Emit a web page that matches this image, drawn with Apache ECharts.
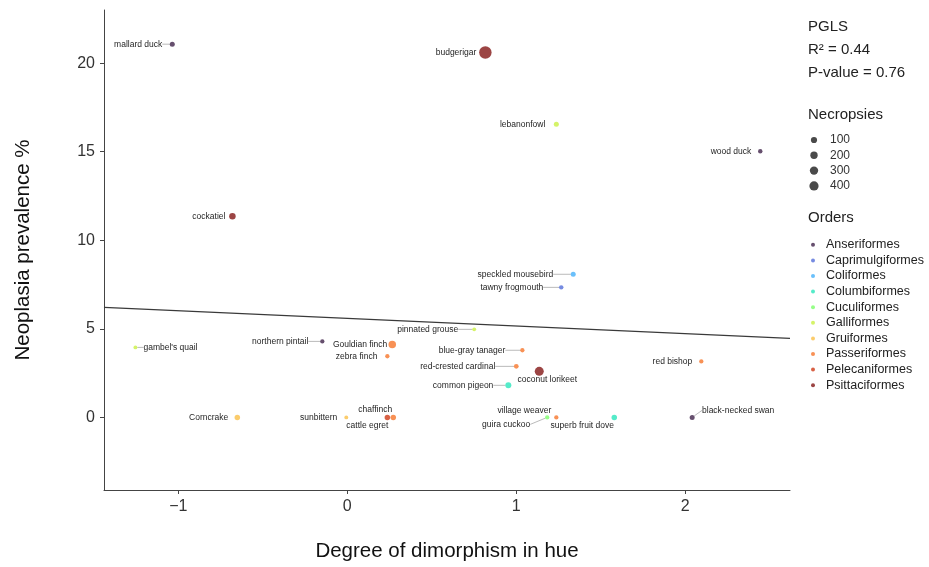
<!DOCTYPE html>
<html>
<head>
<meta charset="utf-8">
<script src="https://cdn.jsdelivr.net/npm/echarts@6/dist/echarts.min.js"></script>
<style>
  html, body { margin: 0; padding: 0; background: #ffffff; }
  #chart { width: 929px; height: 567px; }
</style>
</head>
<body>
<div id="chart"></div>
<script>
// Species-level data: hue dimorphism vs. neoplasia prevalence
const species = [
  'mallard duck', 'budgerigar', 'lebanonfowl', 'wood duck', 'cockatiel',
  'speckled mousebird', 'tawny frogmouth', 'pinnated grouse', 'northern pintail',
  'Gouldian finch', "gambel's quail", 'blue-gray tanager', 'zebra finch',
  'red-crested cardinal', 'coconut lorikeet', 'red bishop', 'common pigeon',
  'Corncrake', 'sunbittern', 'cattle egret', 'chaffinch', 'village weaver',
  'guira cuckoo', 'superb fruit dove', 'black-necked swan'
];
const speciesOrder = [
  'Anseriformes', 'Psittaciformes', 'Galliformes', 'Anseriformes', 'Psittaciformes',
  'Coliformes', 'Caprimulgiformes', 'Galliformes', 'Anseriformes',
  'Passeriformes', 'Galliformes', 'Passeriformes', 'Passeriformes',
  'Passeriformes', 'Psittaciformes', 'Passeriformes', 'Columbiformes',
  'Gruiformes', 'Gruiformes', 'Pelecaniformes', 'Passeriformes', 'Passeriformes',
  'Cuculiformes', 'Columbiformes', 'Anseriformes'
];
const hueDimorphism = [
  -1.036, 0.817, 1.237, 2.444, -0.680,
  1.337, 1.266, 0.751, -0.148,
  0.266, -1.254, 1.036, 0.237,
  1.000, 1.136, 2.095, 0.953,
  -0.651, -0.006, 0.237, 0.272, 1.237,
  1.183, 1.580, 2.041
];
const neoplasiaPct = [
  21.07, 20.6, 16.55, 15.03, 11.36,
  8.08, 7.34, 4.97, 4.29,
  4.12, 3.95, 3.79, 3.45,
  2.88, 2.60, 3.16, 1.81,
  0, 0, 0, 0, 0,
  0, 0, 0
];
const necropsies = [
  100, 1100, 100, 60, 230,
  100, 60, 25, 50,
  340, 25, 50, 50,
  80, 530, 50, 185,
  140, 25, 140, 140, 50,
  50, 140, 100
];

const orderNames = [
  'Anseriformes', 'Caprimulgiformes', 'Coliformes', 'Columbiformes', 'Cuculiformes',
  'Galliformes', 'Gruiformes', 'Passeriformes', 'Pelecaniformes', 'Psittaciformes'
];
const orderColors = [
  '#30123B', '#4662D7', '#36AAF9', '#1AE4B6', '#72FE5E',
  '#C7EF34', '#FABA39', '#F66B19', '#CB2A04', '#7A0403'
];

// PGLS fit line endpoints
const fitX = [-1.44, 2.62];
const fitY = [6.21, 4.46];

const sizeLegendValues = [100, 200, 300, 400];
const xTickValues = [-1, 0, 1, 2];
const yTickValues = [0, 5, 10, 15, 20];

const statsLines = ['PGLS', 'R\u00B2 = 0.44', 'P-value = 0.76'];

// marker diameter (px) from number of necropsies
function markerSize(n) {
  return Math.sqrt(12 + 0.13 * n);
}

function withAlpha(hex, a) {
  const r = parseInt(hex.slice(1, 3), 16);
  const g = parseInt(hex.slice(3, 5), 16);
  const b = parseInt(hex.slice(5, 7), 16);
  return 'rgba(' + r + ',' + g + ',' + b + ',' + a + ')';
}

// label placement relative to the marker centre (px); seg = start of the leader segment
const labelPlace = {
  'mallard duck':        { dx: -10, dy: 0, align: 'right', seg: [-8, 0] },
  'budgerigar':          { dx: -9,  dy: 0, align: 'right' },
  'lebanonfowl':         { dx: -11, dy: 0, align: 'right' },
  'wood duck':           { dx: -9,  dy: 0, align: 'right' },
  'cockatiel':           { dx: -7,  dy: 0, align: 'right' },
  'speckled mousebird':  { dx: -20, dy: 0, align: 'right', seg: [-17, 0] },
  'tawny frogmouth':     { dx: -18, dy: 0, align: 'right', seg: [-15, 0] },
  'pinnated grouse':     { dx: -16, dy: 0, align: 'right', seg: [-13, 0] },
  'northern pintail':    { dx: -14, dy: 0, align: 'right', seg: [-11, 0] },
  'Gouldian finch':      { dx: -5,  dy: 0, align: 'right' },
  "gambel's quail":      { dx: 8,   dy: 0, align: 'left', seg: [6, 0] },
  'blue-gray tanager':   { dx: -17, dy: 0, align: 'right', seg: [-14, 0] },
  'zebra finch':         { dx: -10, dy: 0, align: 'right' },
  'red-crested cardinal':{ dx: -21, dy: 0, align: 'right', seg: [-18, 0] },
  'coconut lorikeet':    { dx: 8,   dy: 8, align: 'center' },
  'red bishop':          { dx: -9,  dy: 0, align: 'right' },
  'common pigeon':       { dx: -15, dy: 0, align: 'right', seg: [-12, 0] },
  'Corncrake':           { dx: -9,  dy: 0, align: 'right' },
  'sunbittern':          { dx: -9,  dy: 0, align: 'right' },
  'chaffinch':           { dx: -18, dy: -8, align: 'center' },
  'cattle egret':        { dx: -20, dy: 8, align: 'center' },
  'village weaver':      { dx: -32, dy: -7, align: 'center' },
  'guira cuckoo':        { dx: -41, dy: 7, align: 'center', seg: [-15, 5] },
  'superb fruit dove':   { dx: -32, dy: 8, align: 'center' },
  'black-necked swan':   { dx: 46,  dy: -7, align: 'center', seg: [8, -5] }
};

const FONT = '"Liberation Sans", Arial, Helvetica, sans-serif';

const scatterSeries = orderNames.map(function (order, k) {
  const data = [];
  species.forEach(function (name, i) {
    if (speciesOrder[i] !== order) return;
    data.push({
      name: name,
      value: [hueDimorphism[i], neoplasiaPct[i], necropsies[i]],
      labelLine: { show: !!(labelPlace[name] && labelPlace[name].seg) }
    });
  });
  return {
    name: order,
    type: 'scatter',
    data: data,
    z: 3,
    symbol: 'circle',
    symbolSize: function (v) { return markerSize(v[2]); },
    itemStyle: { color: withAlpha(orderColors[k], 0.74), opacity: 1 },
    label: {
      show: true,
      formatter: '{b}',
      position: 'left',
      fontFamily: FONT,
      fontSize: 8.5,
      color: '#1e1e1e'
    },
    labelLine: {
      show: true,
      lineStyle: { color: '#a8a8a8', width: 0.8 }
    },
    emphasis: { disabled: true }
  };
});

const fitSeries = {
  name: 'fit',
  type: 'line',
  data: [[fitX[0], fitY[0]], [fitX[1], fitY[1]]],
  showSymbol: false,
  silent: true,
  z: 2,
  lineStyle: { color: '#3a3a3a', width: 1.1 }
};

// side legend: stats text, size key, orders heading
const graphics = [];
statsLines.forEach(function (t, i) {
  graphics.push({
    type: 'text', left: 808, top: 19 + i * 23,
    style: { text: t, fontFamily: FONT, fontSize: 15, fill: '#222' }
  });
});
graphics.push({
  type: 'text', left: 808, top: 107,
  style: { text: 'Necropsies', fontFamily: FONT, fontSize: 15, fill: '#222' }
});
sizeLegendValues.forEach(function (n, i) {
  const cy = 140 + i * 15.3;
  graphics.push({
    type: 'circle',
    shape: { cx: 814, cy: cy, r: markerSize(n) / 2 + 0.6 },
    style: { fill: '#4a4a4a' }
  });
  graphics.push({
    type: 'text', x: 830, y: cy,
    style: { text: String(n), fontFamily: FONT, fontSize: 12, fill: '#333', verticalAlign: 'middle' }
  });
});
graphics.push({
  type: 'text', left: 808, top: 210,
  style: { text: 'Orders', fontFamily: FONT, fontSize: 15, fill: '#222' }
});

const chart = echarts.init(document.getElementById('chart'), null, { renderer: 'canvas' });
chart.setOption({
  backgroundColor: '#ffffff',
  animation: false,
  grid: { left: 104, right: 139, top: 10, bottom: 77, containLabel: false },
  xAxis: {
    type: 'value',
    min: -1.44,
    max: 2.62,
    name: 'Degree of dimorphism in hue',
    nameLocation: 'middle',
    nameGap: 51,
    nameTextStyle: { fontFamily: FONT, fontSize: 20.5, color: '#111' },
    axisLine: { show: true, onZero: false, lineStyle: { color: '#444', width: 1 } },
    axisTick: { show: true, customValues: xTickValues, length: 4, lineStyle: { color: '#444' } },
    axisLabel: {
      customValues: xTickValues,
      fontFamily: FONT, fontSize: 16, color: '#333', margin: 9,
      formatter: function (v) { return v < 0 ? '\u2212' + Math.abs(v) : String(v); }
    },
    splitLine: { show: false }
  },
  yAxis: {
    type: 'value',
    min: -4.1,
    max: 23,
    name: 'Neoplasia prevalence %',
    nameLocation: 'middle',
    nameGap: 70,
    nameTextStyle: { fontFamily: FONT, fontSize: 20.5, color: '#111' },
    axisLine: { show: true, onZero: false, lineStyle: { color: '#444', width: 1 } },
    axisTick: { show: true, customValues: yTickValues, length: 4, lineStyle: { color: '#444' } },
    axisLabel: {
      customValues: yTickValues,
      fontFamily: FONT, fontSize: 16, color: '#333', margin: 9
    },
    splitLine: { show: false }
  },
  legend: {
    data: orderNames,
    orient: 'vertical',
    left: 806,
    top: 232,
    icon: 'circle',
    itemWidth: 16,
    itemHeight: 4,
    itemGap: 0,
    selectedMode: false,
    textStyle: { fontFamily: FONT, fontSize: 12.5, color: '#222', lineHeight: 15.6 }
  },
  labelLayout: function (p) {
    const pl = labelPlace[p.text];
    if (!pl) return {};
    const cx = p.rect.x + p.rect.width / 2;
    const cy = p.rect.y + p.rect.height / 2;
    const out = {
      x: cx + pl.dx,
      y: cy + pl.dy,
      align: pl.align,
      verticalAlign: 'middle'
    };
    if (pl.seg) {
      const sx = cx + pl.seg[0], sy = cy + pl.seg[1];
      const len = Math.hypot(pl.seg[0], pl.seg[1]);
      const r = p.rect.width / 2 + 1.5;
      const ex = cx + pl.seg[0] / len * r, ey = cy + pl.seg[1] / len * r;
      out.labelLinePoints = [[sx, sy], [(sx + ex) / 2, (sy + ey) / 2], [ex, ey]];
    }
    return out;
  },
  graphic: graphics,
  series: scatterSeries.concat([fitSeries])
});
</script>
</body>
</html>
